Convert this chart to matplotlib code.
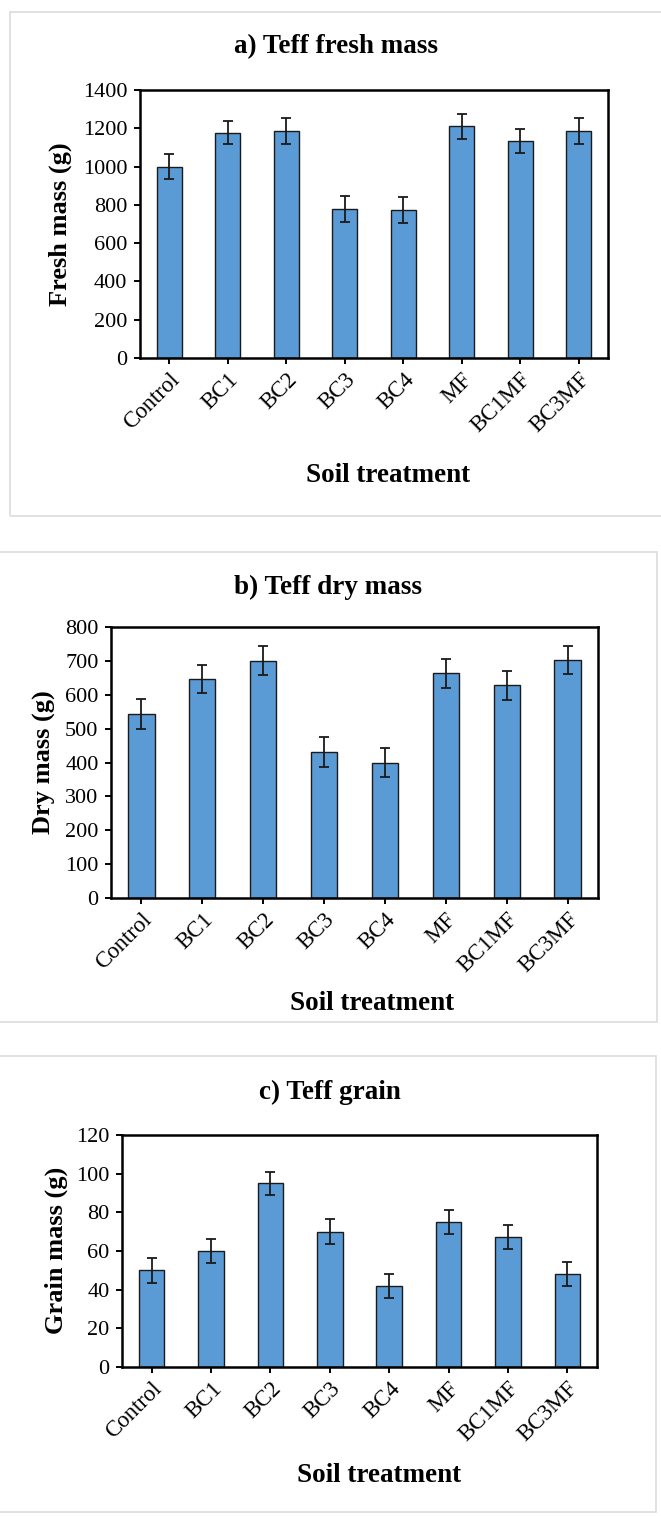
import matplotlib
matplotlib.use("Agg")
from matplotlib import pyplot as plt
from matplotlib.patches import Rectangle

treatments = ["Control", "BC1", "BC2", "BC3", "BC4", "MF", "BC1MF", "BC3MF"]

fresh_mass = [1000, 1177, 1188, 777, 773, 1210, 1132, 1186]
fresh_err = [65, 60, 68, 68, 66, 66, 63, 68]

dry_mass = [543, 646, 700, 431, 400, 664, 628, 703]
dry_err = [43, 42, 43, 43, 43, 43, 43, 41]

grain_mass = [50, 60, 95, 70, 42, 75, 67, 48]
grain_err = [6.3, 6.2, 6.0, 6.5, 6.3, 6.2, 6.2, 6.2]

W, H = 661, 1516
plt.rcParams['font.family'] = ['Liberation Serif', 'DejaVu Serif']

fig = plt.figure(figsize=(W / 100, H / 100), dpi=100)
fig.patch.set_facecolor("white")


def px_box(x0, y0, x1, y1):
    # pixel box (top-left origin) -> figure fractions
    return [x0 / W, 1 - y1 / H, (x1 - x0) / W, (y1 - y0) / H]


def panel(frame, axbox, title, title_xy, ylabel, ylabel_xy, xlabel_xy,
          values, errors, ymax, ystep):
    fx0, fy0, fx1, fy1 = frame
    fig.add_artist(Rectangle((fx0 / W, 1 - fy1 / H), (fx1 - fx0) / W, (fy1 - fy0) / H,
                             transform=fig.transFigure, fill=False,
                             edgecolor="#dcdcdc", linewidth=1.2))

    ax = fig.add_axes(px_box(*axbox))
    x = range(len(treatments))
    ax.bar(x, values, width=0.43, color="#5B9BD5", edgecolor="#1a1a1a", linewidth=1.0,
           yerr=errors, capsize=3.5,
           error_kw=dict(ecolor="#1a1a1a", elinewidth=1.3, capthick=1.3))
    ax.set_xlim(-0.5, len(treatments) - 0.5)
    ax.set_ylim(0, ymax)
    ax.set_yticks(range(0, ymax + 1, ystep))
    ax.set_xticks(list(x))
    ax.set_xticklabels(treatments, rotation=45, ha="right", rotation_mode="anchor")
    ax.tick_params(axis="y", labelsize=16, direction="out", length=4, width=1.4, pad=5)
    ax.tick_params(axis="x", labelsize=16.5, direction="out", length=4, width=1.4, pad=4)
    for s in ax.spines.values():
        s.set_linewidth(1.8)

    fig.text(title_xy[0] / W, 1 - title_xy[1] / H, title, ha="center", va="center",
             fontsize=19.5, fontweight="bold")
    fig.text(ylabel_xy[0] / W, 1 - ylabel_xy[1] / H, ylabel, ha="center", va="center",
             rotation=90, fontsize=19, fontweight="bold")
    fig.text(xlabel_xy[0] / W, 1 - xlabel_xy[1] / H, "Soil treatment", ha="center",
             va="center", fontsize=19.5, fontweight="bold")
    return ax


panel((10, 12, 670, 516), (140, 90, 608, 358), "a) Teff fresh mass", (336, 47),
      "Fresh mass (g)", (60, 224), (388, 475), fresh_mass, fresh_err, 1400, 200)

panel((-5, 552, 657, 1022), (111, 627, 598, 898), "b) Teff dry mass", (328, 587),
      "Dry mass (g)", (44, 762), (372, 1003), dry_mass, dry_err, 800, 100)

panel((-5, 1056, 656, 1512), (122, 1135, 597, 1367), "c) Teff grain", (330, 1092),
      "Grain mass (g)", (56, 1250), (379, 1475), grain_mass, grain_err, 120, 20)

fig.savefig("out.png", dpi=100)
plt.close(fig)
